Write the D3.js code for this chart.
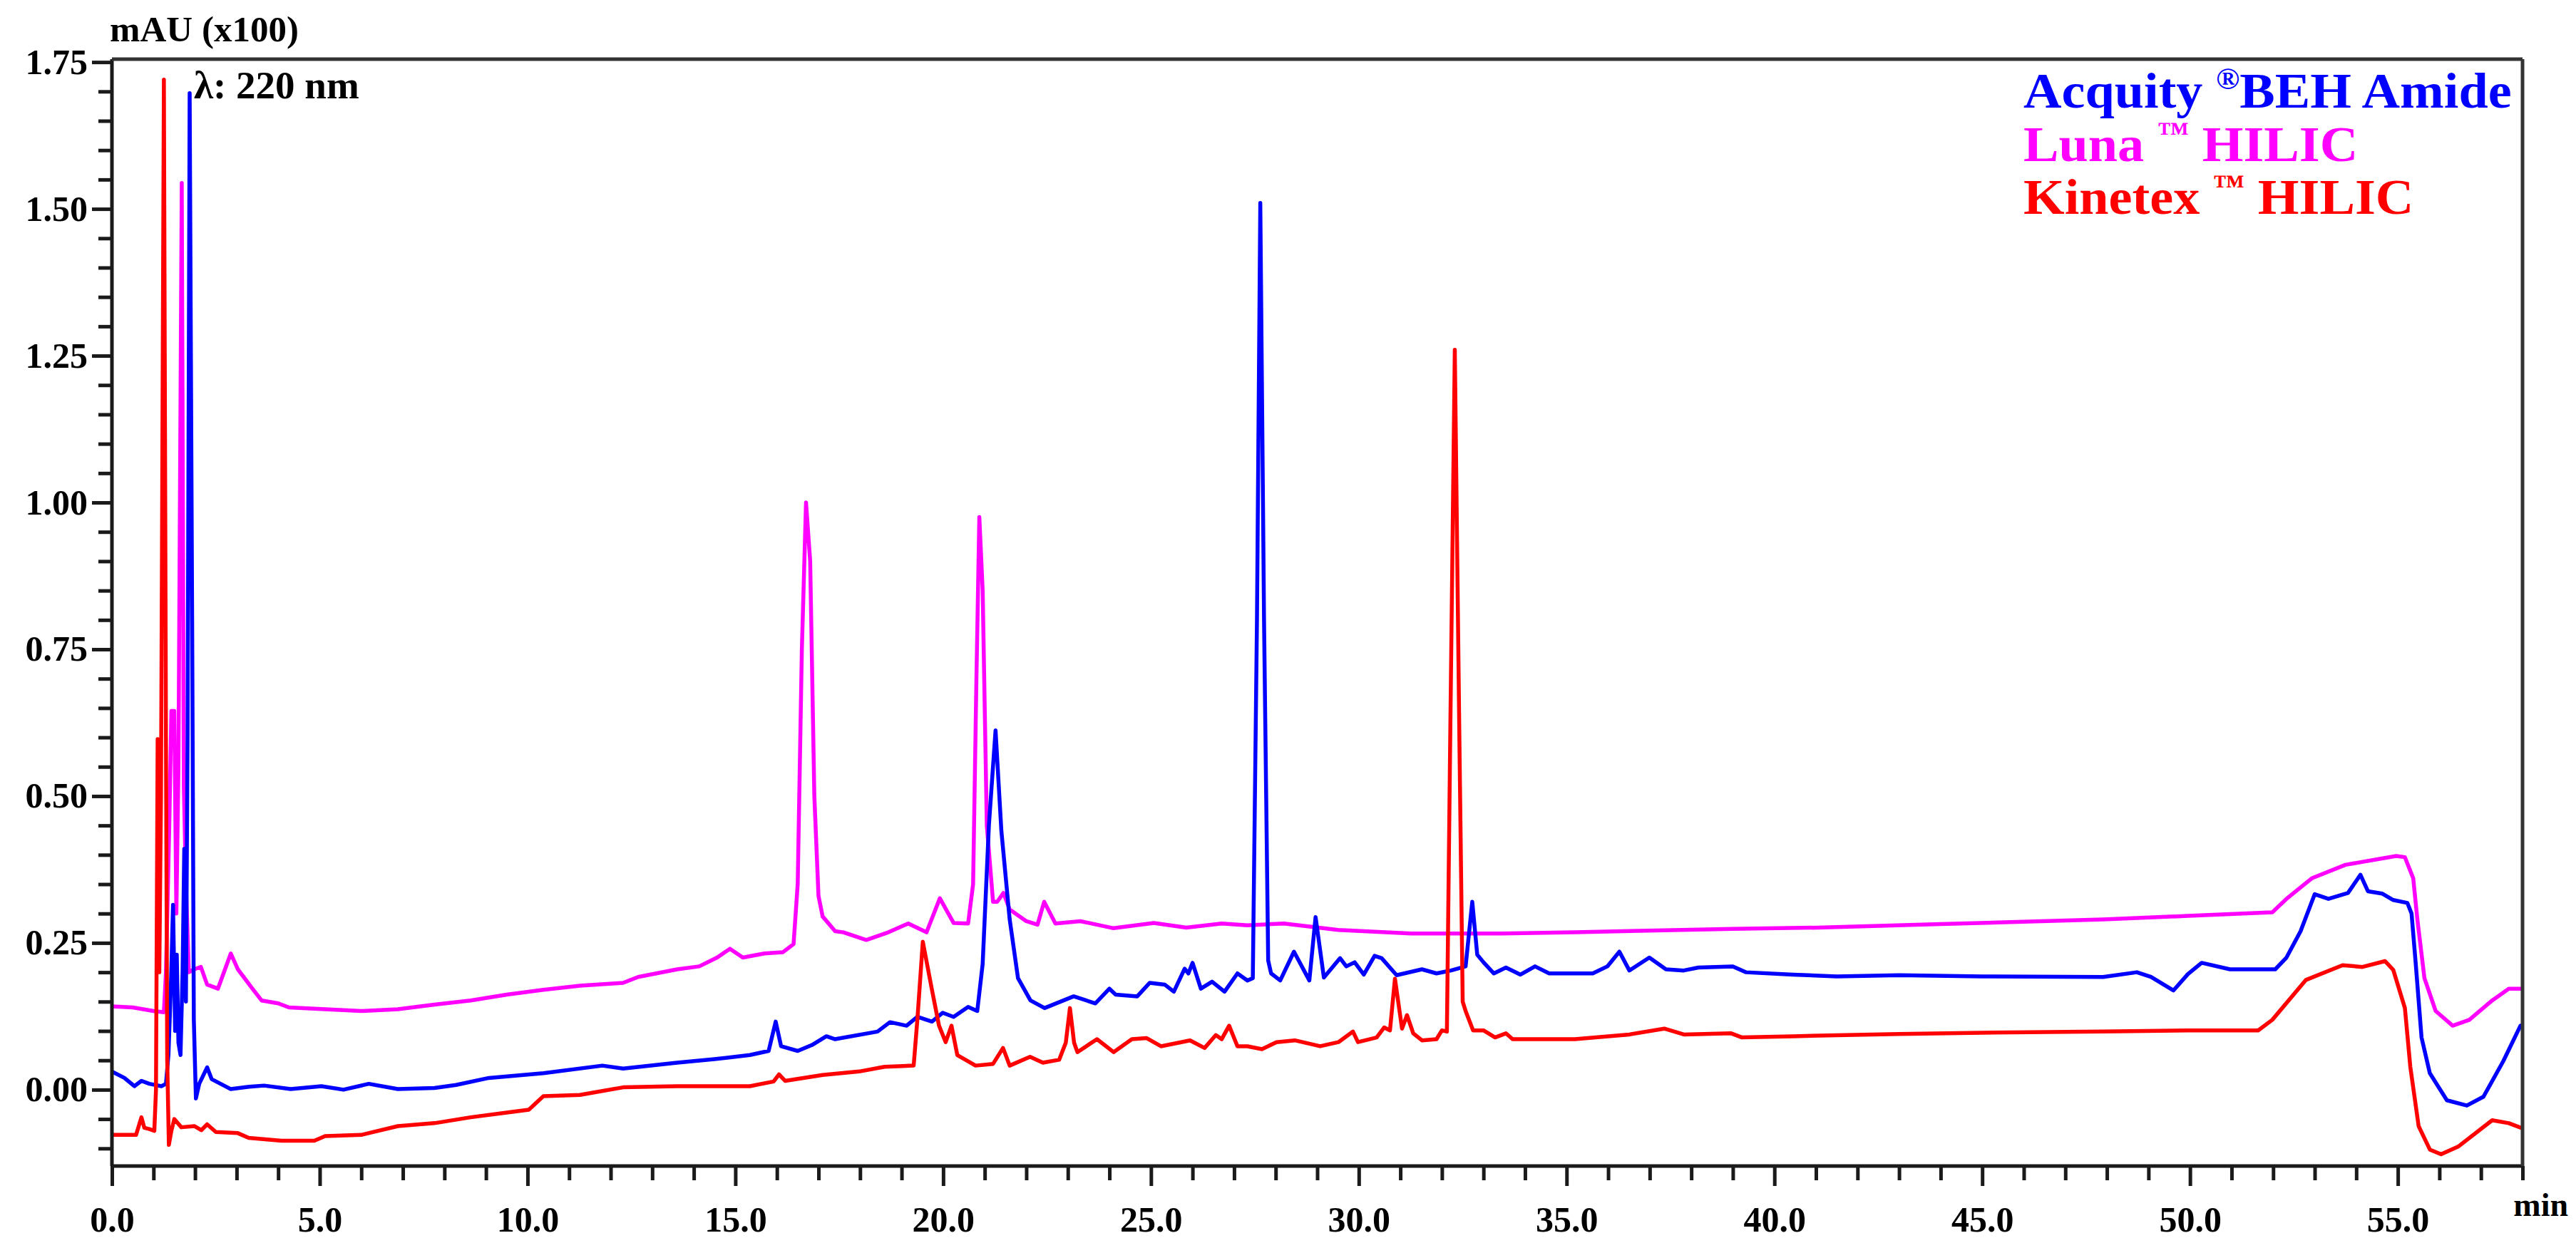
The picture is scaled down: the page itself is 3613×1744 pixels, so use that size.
<!DOCTYPE html>
<html><head><meta charset="utf-8">
<script src="https://cdn.jsdelivr.net/npm/d3@7"></script>
<style>html,body{margin:0;padding:0;background:#fff;} svg{display:block;}</style>
</head><body>
<svg id="chart" width="3613" height="1744"></svg>
<script>
// ---- data (time in min, absorbance in mAU x100) ----
const acquity = [[0,0.031],[0.3,0.02],[0.54,0.006],[0.71,0.015],[0.9,0.01],[1.19,0.006],[1.3,0.01],[1.36,0.06],[1.42,0.18],[1.47,0.315],[1.52,0.1],[1.56,0.23],[1.6,0.08],[1.65,0.059],[1.7,0.2],[1.74,0.41],[1.78,0.15],[1.82,0.6],[1.87,1.697],[1.93,0.8],[1.97,0.12],[2.02,-0.015],[2.1,0.01],[2.29,0.038],[2.4,0.018],[2.86,0.001],[3.3,0.005],[3.66,0.007],[4.3,0.001],[5.04,0.006],[5.57,0.0],[6.18,0.01],[6.88,0.001],[7.76,0.003],[8.28,0.008],[9.07,0.02],[10.38,0.028],[11.8,0.041],[12.3,0.036],[13.6,0.046],[14.5,0.052],[15.35,0.059],[15.8,0.066],[15.97,0.116],[16.1,0.074],[16.5,0.066],[16.84,0.076],[17.19,0.091],[17.4,0.086],[18.42,0.099],[18.72,0.115],[19.12,0.109],[19.38,0.124],[19.73,0.116],[19.99,0.131],[20.25,0.124],[20.6,0.141],[20.82,0.134],[20.95,0.214],[21.1,0.45],[21.26,0.612],[21.4,0.441],[21.6,0.29],[21.8,0.19],[22.1,0.152],[22.44,0.139],[23.14,0.159],[23.66,0.147],[24.0,0.172],[24.15,0.162],[24.67,0.159],[24.97,0.182],[25.33,0.179],[25.55,0.167],[25.81,0.206],[25.9,0.198],[26.0,0.216],[26.2,0.172],[26.47,0.184],[26.77,0.167],[27.08,0.198],[27.32,0.186],[27.45,0.19],[27.55,0.8],[27.63,1.51],[27.72,0.8],[27.82,0.22],[27.89,0.198],[28.11,0.186],[28.44,0.235],[28.81,0.186],[28.96,0.294],[29.16,0.191],[29.55,0.224],[29.7,0.21],[29.9,0.217],[30.12,0.196],[30.38,0.228],[30.55,0.224],[30.91,0.195],[31.52,0.205],[31.87,0.198],[32.22,0.203],[32.57,0.21],[32.73,0.32],[32.85,0.23],[33.0,0.217],[33.25,0.198],[33.54,0.208],[33.89,0.196],[34.24,0.21],[34.58,0.198],[35.63,0.198],[35.98,0.21],[36.27,0.235],[36.51,0.203],[36.99,0.225],[37.39,0.205],[37.82,0.203],[38.17,0.208],[39.0,0.21],[39.31,0.2],[40.45,0.196],[41.5,0.193],[43,0.195],[45,0.193],[47.91,0.192],[48.72,0.2],[49.06,0.192],[49.6,0.169],[49.95,0.197],[50.28,0.216],[50.96,0.205],[52.05,0.205],[52.32,0.225],[52.66,0.27],[53.0,0.333],[53.33,0.325],[53.8,0.335],[54.1,0.366],[54.28,0.338],[54.62,0.334],[54.89,0.323],[55.23,0.318],[55.33,0.3],[55.43,0.215],[55.57,0.089],[55.77,0.028],[56.18,-0.018],[56.66,-0.027],[57.06,-0.012],[57.54,0.049],[57.95,0.109],[58,0.11]];
const luna = [[0,0.142],[0.5,0.14],[1.0,0.134],[1.25,0.132],[1.3,0.2],[1.38,0.45],[1.43,0.645],[1.5,0.645],[1.55,0.3],[1.6,0.55],[1.68,1.544],[1.73,0.517],[1.78,0.35],[1.85,0.2],[1.98,0.205],[2.14,0.209],[2.29,0.179],[2.55,0.172],[2.86,0.232],[3.03,0.205],[3.38,0.172],[3.6,0.152],[4.0,0.147],[4.26,0.14],[5.13,0.137],[6.0,0.134],[6.88,0.137],[7.76,0.145],[8.63,0.152],[9.5,0.162],[10.38,0.17],[11.26,0.177],[12.3,0.182],[12.66,0.192],[13.6,0.205],[14.13,0.21],[14.56,0.225],[14.87,0.24],[15.18,0.225],[15.7,0.232],[16.14,0.234],[16.4,0.248],[16.5,0.35],[16.6,0.75],[16.7,1.0],[16.8,0.9],[16.9,0.5],[17.0,0.33],[17.1,0.295],[17.4,0.27],[17.6,0.268],[18.15,0.255],[18.68,0.268],[19.16,0.283],[19.6,0.268],[19.92,0.326],[20.25,0.284],[20.6,0.283],[20.72,0.35],[20.8,0.7],[20.87,0.975],[20.95,0.85],[21.05,0.45],[21.2,0.32],[21.3,0.32],[21.45,0.335],[21.6,0.307],[22.0,0.287],[22.27,0.281],[22.43,0.32],[22.7,0.283],[23.3,0.287],[24.1,0.275],[25.07,0.284],[25.85,0.276],[26.7,0.283],[27.32,0.28],[28.2,0.283],[29.5,0.272],[31.26,0.266],[33.45,0.266],[35.2,0.268],[36.95,0.271],[39,0.274],[41.05,0.276],[44,0.282],[47.91,0.29],[49.95,0.296],[51.98,0.302],[52.32,0.325],[52.93,0.36],[53.74,0.383],[54.96,0.398],[55.17,0.396],[55.37,0.36],[55.47,0.29],[55.64,0.19],[55.91,0.134],[56.32,0.109],[56.72,0.119],[57.27,0.152],[57.67,0.172],[58,0.172]];
const kinetex = [[0,-0.077],[0.58,-0.077],[0.71,-0.047],[0.78,-0.065],[0.9,-0.067],[1.02,-0.07],[1.06,0.0],[1.1,0.597],[1.14,0.2],[1.18,0.5],[1.25,1.72],[1.3,0.6],[1.33,0.05],[1.37,-0.094],[1.43,-0.07],[1.5,-0.05],[1.67,-0.064],[1.98,-0.062],[2.15,-0.069],[2.29,-0.059],[2.5,-0.072],[3.03,-0.074],[3.29,-0.082],[4.08,-0.087],[4.87,-0.087],[5.13,-0.079],[6.0,-0.077],[6.88,-0.062],[7.76,-0.057],[8.63,-0.047],[9.5,-0.039],[10.03,-0.034],[10.38,-0.011],[11.26,-0.009],[12.3,0.004],[13.6,0.006],[14.48,0.006],[15.35,0.006],[15.92,0.014],[16.05,0.026],[16.2,0.015],[17.1,0.025],[17.98,0.031],[18.59,0.039],[19.29,0.041],[19.38,0.12],[19.51,0.252],[19.73,0.17],[19.9,0.109],[20.06,0.081],[20.2,0.109],[20.34,0.059],[20.78,0.041],[21.2,0.044],[21.44,0.071],[21.6,0.041],[22.09,0.056],[22.4,0.046],[22.79,0.051],[22.95,0.08],[23.05,0.139],[23.15,0.08],[23.23,0.064],[23.7,0.086],[24.1,0.064],[24.54,0.086],[24.89,0.088],[25.24,0.074],[25.94,0.084],[26.29,0.071],[26.56,0.093],[26.7,0.086],[26.88,0.109],[27.08,0.074],[27.32,0.074],[27.67,0.069],[28.02,0.081],[28.46,0.084],[29.07,0.074],[29.51,0.081],[29.86,0.099],[29.98,0.081],[30.43,0.089],[30.61,0.106],[30.75,0.101],[30.87,0.189],[31.04,0.104],[31.16,0.127],[31.31,0.096],[31.52,0.084],[31.87,0.086],[32.0,0.101],[32.12,0.099],[32.2,0.6],[32.31,1.26],[32.42,0.6],[32.5,0.15],[32.57,0.134],[32.75,0.101],[33.0,0.101],[33.28,0.089],[33.54,0.096],[33.7,0.086],[35.2,0.086],[36.51,0.094],[37.35,0.104],[37.82,0.094],[38.96,0.096],[39.22,0.089],[40.45,0.091],[43,0.095],[45,0.097],[47.91,0.099],[49.95,0.101],[51.64,0.101],[51.98,0.119],[52.79,0.187],[53.67,0.212],[54.15,0.209],[54.69,0.219],[54.89,0.204],[55.17,0.139],[55.3,0.039],[55.5,-0.062],[55.77,-0.102],[56.04,-0.11],[56.45,-0.097],[57.27,-0.052],[57.67,-0.057],[58,-0.066]];

const seriesNames = ["Acquity", "Luna", "Kinetex"];
const seriesColors = ["#0000ff", "#ff00ff", "#ff0000"];
const xMajorTicks = [0,5,10,15,20,25,30,35,40,45,50,55];
const xTickLabels = ["0.0","5.0","10.0","15.0","20.0","25.0","30.0","35.0","40.0","45.0","50.0","55.0"];
const yMajorTicks = [0,0.25,0.5,0.75,1.0,1.25,1.5,1.75];
const yTickLabels = ["0.00","0.25","0.50","0.75","1.00","1.25","1.50","1.75"];
const xDomain = [0, 58];
const yDomain = [-0.13, 1.755];

// ---- layout ----
const L = 157, R = 3538, T = 83, B = 1636;
const font = "'Liberation Serif','Times New Roman',serif";
const svg = d3.select("#chart");
svg.append("rect").attr("width",3613).attr("height",1744).attr("fill","#fff");

const x = d3.scaleLinear().domain(xDomain).range([L, R]);
const y = d3.scaleLinear().domain(yDomain).range([B, T]);

const xMinor = d3.range(1, 59).filter(v => v % 5 !== 0);
const yMinor = d3.range(-2, 36).map(i => +(i*0.05).toFixed(2)).filter(v => Math.abs(v*4 - Math.round(v*4)) > 1e-6);

// clip
svg.append("clipPath").attr("id","clip").append("rect")
  .attr("x", L).attr("y", T).attr("width", R-L).attr("height", B-T);

const line = d3.line().x(d => x(d[0])).y(d => y(d[1]));
const plot = svg.append("g").attr("clip-path","url(#clip)");
const drawOrder = [[luna,1],[acquity,0],[kinetex,2]];
drawOrder.forEach(([data, i]) => {
  plot.append("path").datum(data).attr("d", line)
    .attr("fill","none").attr("stroke", seriesColors[i])
    .attr("stroke-width", 5.5).attr("stroke-linejoin","round").attr("stroke-linecap","round");
});

// axes
function styleAxis(g){
  g.select(".domain").remove();
  g.selectAll(".tick line").attr("stroke","#1a1a1a").attr("stroke-width",5);
}
const yAxisMinor = svg.append("g").attr("transform",`translate(${L},0)`)
  .call(d3.axisLeft(y).tickValues(yMinor).tickSize(19).tickFormat(""));
styleAxis(yAxisMinor);
const yAxis = svg.append("g").attr("transform",`translate(${L},0)`)
  .call(d3.axisLeft(y).tickValues(yMajorTicks).tickSize(28).tickPadding(6)
    .tickFormat((d,i) => yTickLabels[i]));
styleAxis(yAxis);
yAxis.selectAll("text").attr("font-family",font).attr("font-weight","bold")
  .attr("font-size",50).attr("fill","#000");

const xAxisMinor = svg.append("g").attr("transform",`translate(0,${B})`)
  .call(d3.axisBottom(x).tickValues(xMinor).tickSize(20).tickFormat(""));
styleAxis(xAxisMinor);
const xAxis = svg.append("g").attr("transform",`translate(0,${B})`)
  .call(d3.axisBottom(x).tickValues(xMajorTicks).tickSize(28).tickPadding(28)
    .tickFormat((d,i) => xTickLabels[i]));
styleAxis(xAxis);
xAxis.selectAll("text").attr("font-family",font).attr("font-weight","bold")
  .attr("font-size",50).attr("fill","#000");

// frame
const frame = svg.append("g").attr("fill","none").attr("stroke","#1a1a1a").attr("stroke-width",5);
frame.append("line").attr("x1",L).attr("x2",L).attr("y1",T).attr("y2",B);
frame.append("line").attr("x1",L).attr("x2",R).attr("y1",B).attr("y2",B);
frame.append("line").attr("x1",L).attr("x2",R).attr("y1",T).attr("y2",T).attr("stroke","#333");
frame.append("line").attr("x1",R).attr("x2",R).attr("y1",T).attr("y2",B).attr("stroke","#333");

// texts
svg.append("text").attr("x",154).attr("y",58).attr("font-family",font).attr("font-weight","bold")
  .attr("font-size",51).attr("fill","#000").text("mAU (x100)");
svg.append("text").attr("x",272).attr("y",138).attr("font-family",font).attr("font-weight","bold")
  .attr("font-size",55).attr("fill","#000").text("λ: 220 nm");
svg.append("text").attr("x",3602).attr("y",1706).attr("text-anchor","end").attr("font-family",font).attr("font-weight","bold")
  .attr("font-size",46).attr("fill","#000").text("min");

// legend
const legendLines = [
  {parts:[["Acquity ",false],["®",true],["BEH Amide",false]], color:seriesColors[0], yb:151},
  {parts:[["Luna ",false],["™",true],[" HILIC",false]], color:seriesColors[1], yb:226},
  {parts:[["Kinetex ",false],["™",true],[" HILIC",false]], color:seriesColors[2], yb:300}
];
legendLines.forEach(l => {
  const t = svg.append("text").attr("transform",`translate(2838,${l.yb}) scale(1.06,1)`)
    .attr("font-family",font).attr("font-weight","bold").attr("font-size",70).attr("fill",l.color);
  l.parts.forEach(([s, sup], k) => {
    const ts = t.append("tspan").text(s);
    if (sup) ts.attr("font-size",42).attr("dy",-26);
    else if (k > 0) ts.attr("dy",26);
  });
});
</script>
</body></html>
